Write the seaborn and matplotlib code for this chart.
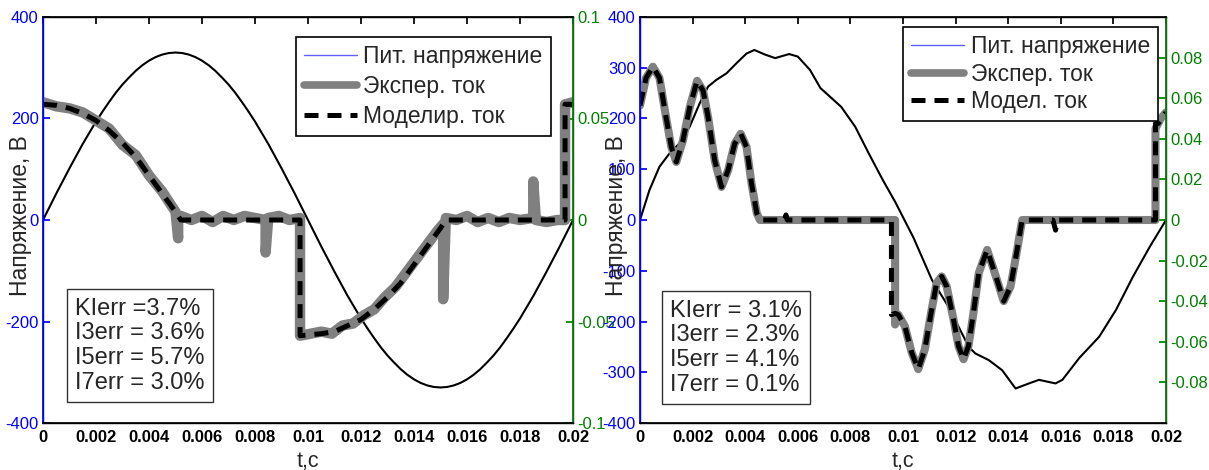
import matplotlib.pyplot as plt
from matplotlib.lines import Line2D
import numpy as np
import seaborn as sns

# ---- left panel: sinusoidal supply ----
u_left = [0, 26, 52, 77, 102, 126, 150, 172, 194, 214, 233, 251, 267, 281, 294, 305, 314, 321, 326, 329, 330,
          329, 326, 321, 314, 305, 294, 281, 267, 251, 233, 214, 194, 172, 150, 126, 102, 77, 52, 26, 0,
          -26, -52, -77, -102, -126, -150, -172, -194, -214, -233, -251, -267, -281, -294, -305, -314, -321, -326, -329, -330,
          -329, -326, -321, -314, -305, -294, -281, -267, -251, -233, -214, -194, -172, -150, -126, -102, -77, -52, -26, 0]
t_u_left = np.linspace(0, 0.02, len(u_left))

exp_t_left = [0, 0.0005, 0.001, 0.0015, 0.002, 0.0025, 0.003, 0.0035, 0.004, 0.0045,
              0.005, 0.0051, 0.0051, 0.0052, 0.0056, 0.006, 0.0064, 0.0068, 0.0072, 0.0076,
              0.008, 0.0084, 0.0084, 0.0085, 0.0089, 0.0093, 0.0097, 0.0097, 0.0101, 0.0105,
              0.0109, 0.0113, 0.0117, 0.0121, 0.0125, 0.0129, 0.0133, 0.0137, 0.0141, 0.0145,
              0.0149, 0.0151, 0.0151, 0.0152, 0.0156, 0.016, 0.0164, 0.0168, 0.0172, 0.0176,
              0.018, 0.0185, 0.0185, 0.0186, 0.019, 0.0194, 0.0197, 0.0197, 0.02]
exp_i_left = [0.058, 0.056, 0.055, 0.053, 0.049, 0.045, 0.037, 0.032, 0.022, 0.014,
              0.004, -0.009, 0.001, 0.002, 0.000, 0.002, -0.001, 0.002, 0.000, 0.002,
              0.001, 0.000, -0.016, 0.001, 0.002, 0.000, 0.001, -0.057, -0.056, -0.055,
              -0.056, -0.052, -0.051, -0.047, -0.044, -0.038, -0.033, -0.026, -0.019, -0.012,
              -0.005, -0.002, -0.039, 0.001, 0.000, 0.002, -0.001, 0.001, -0.001, 0.001,
              0.000, 0.001, 0.019, 0.000, -0.001, 0.000, 0.000, 0.057, 0.058]

mod_t_left = [0, 0.0005, 0.001, 0.0015, 0.002, 0.0025, 0.003, 0.0035, 0.004, 0.0045, 0.005, 0.0052,
              0.0097, 0.0097, 0.0105, 0.011, 0.0115, 0.012, 0.0125, 0.013, 0.0135, 0.014, 0.0145, 0.015,
              0.0152, 0.0197, 0.0197, 0.02]
mod_i_left = [0.057, 0.0565, 0.055, 0.0525, 0.049, 0.044, 0.038, 0.031, 0.022, 0.013, 0.004, 0,
              0, -0.057, -0.056, -0.055, -0.052, -0.049, -0.044, -0.038, -0.031, -0.022, -0.013, -0.004,
              0, 0, 0.057, 0.057]

# ---- right panel: distorted supply ----
t_u_right = [0, 0.00036, 0.00074, 0.00112, 0.0015, 0.00189, 0.00227, 0.00259, 0.0029, 0.00329, 0.00367,
             0.00405, 0.00435, 0.00475, 0.00514, 0.00567, 0.006, 0.00646, 0.00686, 0.00765, 0.00818,
             0.0087, 0.00923, 0.0097, 0.0104, 0.0111, 0.01173, 0.0125, 0.01275, 0.01326, 0.01377,
             0.01428, 0.01479, 0.01517, 0.0158, 0.01606, 0.0167, 0.01746, 0.0181, 0.01874, 0.01938, 0.02]
u_right = [0, 59, 105, 131, 151, 184, 230, 263, 276, 289, 309,
           328, 335, 326, 319, 327, 322, 296, 260, 223, 184,
           131, 79, 36, -35, -118, -171, -250, -263, -276, -296,
           -332, -322, -315, -322, -315, -272, -230, -177, -112, -53, 0]

osc_t_a = [0, 0.00023, 0.00049, 0.00074, 0.00099, 0.00119, 0.00138, 0.00163, 0.00189, 0.00217, 0.0024,
           0.00259, 0.00284, 0.0031, 0.00335, 0.0036, 0.00383, 0.00405, 0.00424, 0.00444, 0.00456]
osc_i_a = [0.0564, 0.070, 0.0755, 0.070, 0.0506, 0.036, 0.0286, 0.039, 0.0555, 0.0686, 0.0637,
           0.0506, 0.0294, 0.0163, 0.0245, 0.0376, 0.0425, 0.036, 0.018, 0.0033, 0]
osc_t_b = [0.00982, 0.01007, 0.01033, 0.01058, 0.01083, 0.01109, 0.01128, 0.01147, 0.01166, 0.01192, 0.01211,
           0.0123, 0.01249, 0.01268, 0.01288, 0.0132, 0.01345, 0.01383, 0.01409, 0.01434, 0.01453]
osc_i_b = [-0.0466, -0.0523, -0.0653, -0.0735, -0.0637, -0.0441, -0.031, -0.0278, -0.0327, -0.049, -0.0621,
           -0.0686, -0.0621, -0.0457, -0.0261, -0.0147, -0.0245, -0.040, -0.0327, -0.0147, 0]

exp_t_right = osc_t_a + [0.0097, 0.0097] + osc_t_b + [0.0196, 0.0196, 0.0198, 0.02]
exp_i_right = osc_i_a + [0, -0.0515] + osc_i_b + [0, 0.045, 0.05, 0.053]
mod_t_right = osc_t_a + [0.0055, 0.00555, 0.0056, 0.00956, 0.00956, 0.0097] + osc_t_b + \
              [0.0157, 0.0158, 0.0159, 0.0196, 0.0196, 0.0197, 0.02]
mod_i_right = osc_i_a + [0, 0.0025, 0, 0, -0.0466, -0.046] + osc_i_b + \
              [0, -0.005, 0, 0, 0.0475, 0.0475, 0.053]

x_ticks = [0, 0.002, 0.004, 0.006, 0.008, 0.01, 0.012, 0.014, 0.016, 0.018, 0.02]
x_tick_labels = ['0', '0.002', '0.004', '0.006', '0.008', '0.01', '0.012', '0.014', '0.016', '0.018', '0.02']
u_ticks_left = [-400, -200, 0, 200, 400]
u_ticks_right = [-400, -300, -200, -100, 0, 100, 200, 300, 400]
i_ticks_left = [-0.1, -0.05, 0, 0.05, 0.1]
i_tick_labels_left = ['-0.1', '-0.05', '0', '0.05', '0.1']
i_ticks_right = [-0.08, -0.06, -0.04, -0.02, 0, 0.02, 0.04, 0.06, 0.08]
i_tick_labels_right = ['-0.08', '-0.06', '-0.04', '-0.02', '0', '0.02', '0.04', '0.06', '0.08']

legend_left = ['Пит. напряжение', 'Экспер. ток', 'Моделир. ток']
legend_right = ['Пит. напряжение', 'Экспер. ток', 'Модел. ток']
err_left = 'KIerr =3.7%\nI3err = 3.6%\nI5err = 5.7%\nI7err = 3.0%'
err_right = 'KIerr = 3.1%\nI3err = 2.3%\nI5err = 4.1%\nI7err = 0.1%'

sns.set_theme(style="white")
plt.rcParams['font.family'] = ['Liberation Sans', 'DejaVu Sans']
plt.rcParams['axes.unicode_minus'] = False

BLUE = '#0000ff'
GREEN = '#008000'
GRAY = '#808080'
DASH = (0, (2.8, 1.8))

fig = plt.figure(figsize=(12.09, 4.70), dpi=100)


def panel(rect, t_u, u, t_e, i_e, t_m, i_m, u_ticks, i_ticks, i_labels, names, err, err_xy,
          leg_anchor, leg_spacing, exp_lw, ylab_x):
    ax = fig.add_axes(rect)
    sns.lineplot(x=t_u, y=u, ax=ax, color='black', lw=1.5, estimator=None, sort=False)
    ax.set_xlim(0, 0.02)
    ax.set_ylim(-400, 400)
    ax.set_xticks(x_ticks)
    ax.set_xticklabels(x_tick_labels, fontweight='bold')
    ax.set_yticks(u_ticks)
    ax.tick_params(axis='x', direction='in', length=5, top=True, labelsize=12, colors='black', pad=5)
    ax.tick_params(axis='y', direction='in', length=5, right=True, labelsize=12, colors=BLUE, pad=3)
    for s in ['top', 'bottom']:
        ax.spines[s].set_color('black')
    ax.spines['left'].set_color(BLUE)
    for s in ax.spines.values():
        s.set_linewidth(1.0)
    ax.set_xlabel('t,c', fontsize=15.5, va='top')
    ax.xaxis.set_label_coords(0.5, -0.068)
    ax.set_ylabel('Напряжение, В', fontsize=16.5)
    ax.yaxis.set_label_coords(ylab_x, 0.51)

    ax2 = ax.twinx()
    sns.lineplot(x=t_e, y=i_e, ax=ax2, color=GRAY, lw=exp_lw, estimator=None, sort=False,
                 solid_capstyle='round', solid_joinstyle='round')
    sns.lineplot(x=t_m, y=i_m, ax=ax2, color='black', lw=3.6, estimator=None, sort=False,
                 dashes=False, linestyle=DASH)
    ax2.set_ylim(-0.1, 0.1)
    ax2.set_yticks(i_ticks)
    ax2.set_yticklabels(i_labels)
    ax2.tick_params(axis='y', direction='in', length=5, labelsize=12, colors=GREEN, pad=3)
    ax2.spines['right'].set_color(GREEN)
    ax2.spines['left'].set_color(BLUE)
    ax2.spines['top'].set_color('black')
    ax2.spines['bottom'].set_color('black')
    ax2.set_ylabel('')

    handles = [Line2D([], [], color='#5f5fff', lw=1.0),
               Line2D([], [], color=GRAY, lw=5.5),
               Line2D([], [], color='black', lw=3.6, linestyle=DASH)]
    leg = ax2.legend(handles, names, loc='upper right', bbox_to_anchor=leg_anchor, borderaxespad=0,
                     fontsize=16.5, frameon=True, fancybox=False, framealpha=1, edgecolor='black',
                     handlelength=2.3, handletextpad=0.3, labelspacing=leg_spacing, borderpad=0.35)
    leg.get_frame().set_linewidth(1.2)

    ax2.text(err_xy[0], err_xy[1], err, transform=ax2.transAxes, fontsize=17, va='bottom', ha='left',
             linespacing=1.17,
             bbox=dict(boxstyle='square,pad=0.35', fc='white', ec='#333333', lw=1.0))
    return ax, ax2


panel([43 / 1209, 47 / 470, 530 / 1209, 406 / 470], t_u_left, u_left, exp_t_left, exp_i_left,
      mod_t_left, mod_i_left, u_ticks_left, i_ticks_left, i_tick_labels_left, legend_left, err_left,
      (0.06, 0.071), (0.958, 0.951), 0.3, 7.5, -0.021)
panel([640 / 1209, 47 / 470, 526 / 1209, 406 / 470], t_u_right, u_right, exp_t_right, exp_i_right,
      mod_t_right, mod_i_right, u_ticks_right, i_ticks_right, i_tick_labels_right, legend_right, err_right,
      (0.057, 0.066), (0.985, 0.975), 0.2, 5.8, -0.023)

fig.savefig('out.png', dpi=100)
